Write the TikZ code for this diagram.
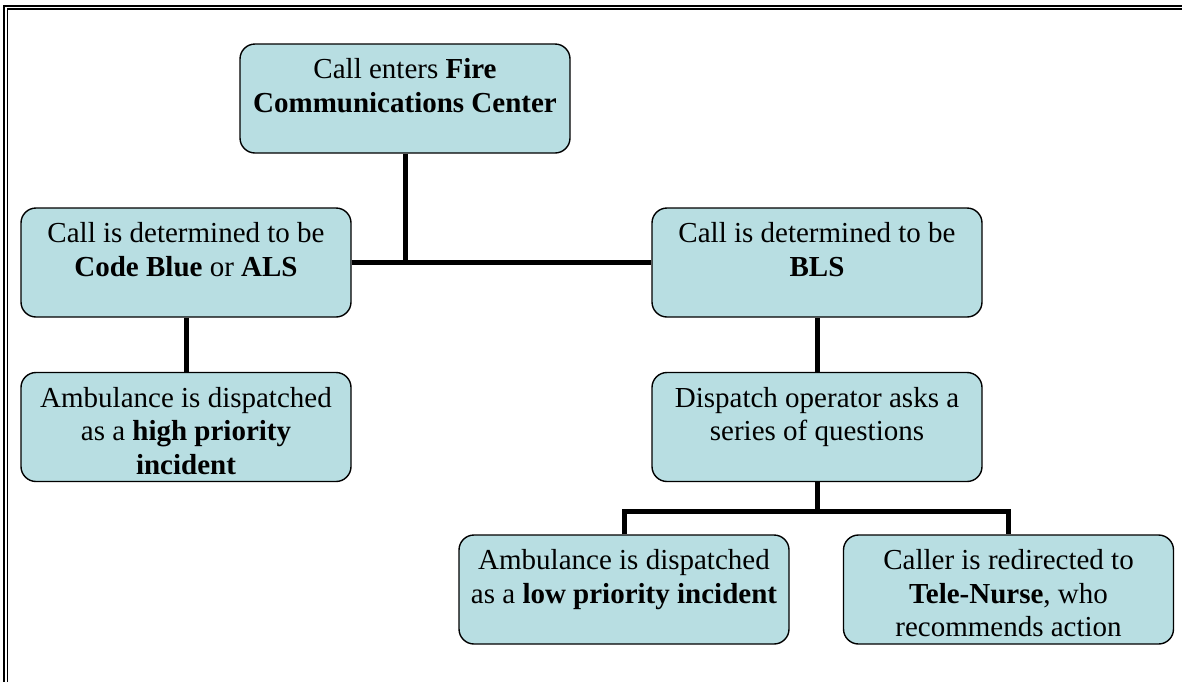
\documentclass[tikz,border=0pt]{standalone}
\usepackage{fontspec}
\setmainfont{Liberation Serif}
\usetikzlibrary{backgrounds}
\definecolor{boxblue}{RGB}{184,222,226}
\newcommand{\boxtext}[1]{\parbox[c][109pt][t]{330pt}{\centering\rule{0pt}{34.5pt}#1}}
\begin{document}
\begin{tikzpicture}[x=1pt,y=-1pt,
  box/.style={draw, line width=1.4pt, fill=boxblue, rounded corners=15pt,
    minimum width=330pt, minimum height=109pt, inner sep=0pt,
    font=\fontsize{29}{33.5}\selectfont},
  conn/.style={draw, line width=5pt}]
\clip (0,0) rectangle (1182,681);
\draw[line width=2.2pt] (4,700) -- (4,5.7) -- (1200,5.7);
\draw[line width=1.7pt] (7.4,700) -- (7.4,8.8) -- (1200,8.8);
\node[box] (top) at (405,98.5) {\boxtext{Call enters \textbf{Fire}\\ \textbf{Communications Center}}};
\node[box] (left) at (186,262.5) {\boxtext{Call is determined to be\\ \textbf{Code Blue} or \textbf{ALS}}};
\node[box] (right) at (817,262.5) {\boxtext{Call is determined to be\\ \textbf{BLS}}};
\node[box] (leftb) at (186,427) {\boxtext{Ambulance is dispatched\\ as a \textbf{high priority}\\ \textbf{incident}}};
\node[box] (disp) at (817,427) {\boxtext{Dispatch operator asks a\\ series of questions}};
\node[box] (bl) at (624,589.5) {\boxtext{Ambulance is dispatched\\ as a \textbf{low priority incident}}};
\node[box] (br) at (1008.5,589.5) {\boxtext{Caller is redirected to\\ \textbf{Tele-Nurse}, who\\ recommends action}};
\coordinate (fork) at (817,511);
\begin{scope}[on background layer]
\draw[conn] (top.south) -- (top.south |- left.east);
\draw[conn] (left.east) -- (right.west);
\draw[conn] (left.south) -- (leftb.north);
\draw[conn] (right.south) -- (disp.north);
\draw[conn] (disp.south) -- (fork);
\draw[conn] (bl.north) |- (fork) -| (br.north);
\end{scope}
\end{tikzpicture}
\end{document}
